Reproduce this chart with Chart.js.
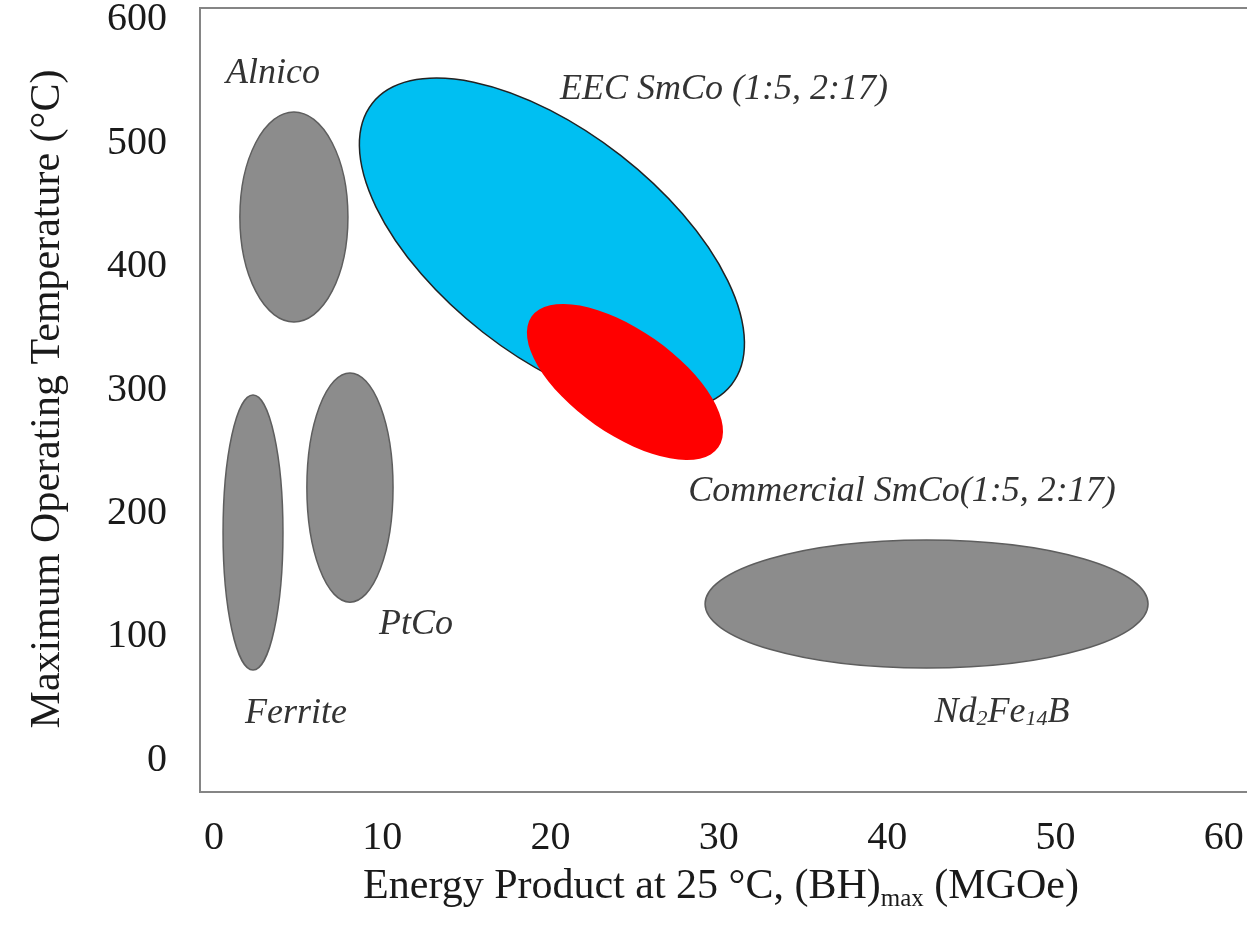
<!DOCTYPE html>
<html>
<head>
<meta charset="utf-8">
<script src="https://cdn.jsdelivr.net/npm/chart.js@4.4.1/dist/chart.umd.min.js"></script>
<style>
html, body { margin: 0; padding: 0; background: #fff; overflow: hidden; }
#caja { width: 1247px; height: 935px; }
</style>
</head>
<body>
<div id="caja"><canvas id="imanes"></canvas></div>
<script>
// materiales y sus regiones (energia en MGOe, temperatura en °C)
var materiales = ['Ferrite', 'Alnico', 'PtCo', 'Nd2Fe14B', 'EEC SmCo', 'Commercial SmCo'];
var centroX = [2.32, 4.75, 8.08, 42.34, 20.08, 24.42];
var centroY = [184.5, 440.3, 220.9, 126.5, 418.4, 306.5];
// extremo del eje mayor
var mayorX = [2.32, 4.75, 8.08, 55.50, 30.76, 29.97];
var mayorY = [296.0, 525.4, 313.8, 126.5, 304.5, 253.5];
// extremo del eje menor
var menorX = [4.10, 7.96, 10.64, 42.34, 15.98, 22.65];
var menorY = [184.5, 440.3, 220.9, 178.4, 346.8, 271.9];

// etiquetas dentro del grafico
var etiquetas = ['Ferrite', 'Alnico', 'PtCo', 'Nd{2}Fe{14}B', 'EEC SmCo (1:5, 2:17)', 'Commercial SmCo(1:5, 2:17)'];
var etiquetaX = [4.87, 3.51, 12.0, 46.82, 30.30, 40.88];
var etiquetaY = [38.1, 556.2, 109.5, 38.9, 543.3, 217.3];

var ticksX = [0, 10, 20, 30, 40, 50, 60];
var ticksY = [0, 100, 200, 300, 400, 500, 600];

var colores = ['#8c8c8c', '#8c8c8c', '#8c8c8c', '#8c8c8c', '#00bff2', '#ff0000'];
var bordes = ['#5e5e5e', '#5e5e5e', '#5e5e5e', '#5e5e5e', '#222222', 'rgba(0,0,0,0)'];

var FUENTE = '"Liberation Serif", "Times New Roman", serif';

// dibuja texto con subindices marcados con {}
function textoRico(ctx, texto, x, y, tam, estilo, centrar) {
  var partes = texto.split(/(\{[^}]*\})/).filter(function (p) { return p.length; });
  var piezas = partes.map(function (p) {
    var sub = p.charAt(0) === '{';
    return { t: sub ? p.slice(1, -1) : p, sub: sub };
  });
  var total = 0;
  piezas.forEach(function (p) {
    ctx.font = estilo + ' ' + (p.sub ? Math.round(tam * 0.6) : tam) + 'px ' + FUENTE;
    p.w = ctx.measureText(p.t).width;
    total += p.w;
  });
  var px = centrar ? x - total / 2 : x;
  piezas.forEach(function (p) {
    ctx.font = estilo + ' ' + (p.sub ? Math.round(tam * 0.6) : tam) + 'px ' + FUENTE;
    ctx.fillText(p.t, px, p.sub ? y + tam * 0.2 : y);
    px += p.w;
  });
}

var elipses = {
  id: 'elipses',
  beforeDatasetsDraw: function (chart) {
    var ctx = chart.ctx, sx = chart.scales.x, sy = chart.scales.y;
    ctx.save();
    for (var i = 0; i < materiales.length; i++) {
      var cx = sx.getPixelForValue(centroX[i]), cy = sy.getPixelForValue(centroY[i]);
      var mx = sx.getPixelForValue(mayorX[i]) - cx, my = sy.getPixelForValue(mayorY[i]) - cy;
      var nx = sx.getPixelForValue(menorX[i]) - cx, ny = sy.getPixelForValue(menorY[i]) - cy;
      ctx.beginPath();
      ctx.ellipse(cx, cy, Math.hypot(mx, my), Math.hypot(nx, ny), Math.atan2(my, mx), 0, 2 * Math.PI);
      ctx.fillStyle = colores[i];
      ctx.fill();
      ctx.lineWidth = 1.5;
      ctx.strokeStyle = bordes[i];
      ctx.stroke();
    }
    ctx.fillStyle = '#333';
    ctx.textBaseline = 'middle';
    for (var j = 0; j < etiquetas.length; j++) {
      textoRico(ctx, etiquetas[j], sx.getPixelForValue(etiquetaX[j]), sy.getPixelForValue(etiquetaY[j]), 36, 'italic', true);
    }
    ctx.restore();
  },
  afterDraw: function (chart) {
    var ctx = chart.ctx;
    ctx.save();
    ctx.fillStyle = '#1a1a1a';
    ctx.textBaseline = 'alphabetic';
    textoRico(ctx, 'Energy Product at 25 \u00B0C, (BH){max} (MGOe)', 721, 898, 42, 'normal', true);
    ctx.translate(59, 399);
    ctx.rotate(-Math.PI / 2);
    ctx.textAlign = 'center';
    ctx.font = '42px ' + FUENTE;
    ctx.fillText('Maximum Operating Temperature (\u00B0C)', 0, 0);
    ctx.restore();
  }
};

function sinRelleno(s) {
  s.paddingTop = 0; s.paddingBottom = 0; s.paddingLeft = 0; s.paddingRight = 0;
}

var puntos = centroX.map(function (x, i) { return { x: x, y: centroY[i] }; });

new Chart(document.getElementById('imanes'), {
  type: 'scatter',
  data: { datasets: [{ label: 'Imanes', data: puntos, pointRadius: 0 }] },
  plugins: [elipses],
  options: {
    responsive: true,
    maintainAspectRatio: false,
    animation: false,
    layout: { padding: 0 },
    plugins: { legend: { display: false }, tooltip: { enabled: false } },
    scales: {
      x: {
        type: 'linear', min: -0.83, max: 61.38,
        grid: { display: false },
        border: { display: true, color: '#858585', width: 2 },
        afterBuildTicks: function (s) { s.ticks = ticksX.map(function (v) { return { value: v }; }); },
        afterFit: function (s) { s.height = 143; sinRelleno(s); },
        ticks: { padding: 14, color: '#1a1a1a', font: { family: FUENTE, size: 40 } }
      },
      x2: {
        type: 'linear', position: 'top', min: -0.83, max: 61.38,
        grid: { display: false },
        border: { display: true, color: '#858585', width: 2 },
        ticks: { display: false },
        afterFit: function (s) { s.height = 8; sinRelleno(s); }
      },
      y: {
        type: 'linear', min: -25.9, max: 609.7,
        grid: { display: false },
        border: { display: true, color: '#858585', width: 2 },
        afterBuildTicks: function (s) { s.ticks = ticksY.map(function (v) { return { value: v }; }); },
        afterFit: function (s) { s.width = 200; sinRelleno(s); },
        ticks: { padding: 25, color: '#1a1a1a', font: { family: FUENTE, size: 40 } }
      }
    }
  }
});
</script>
</body>
</html>
